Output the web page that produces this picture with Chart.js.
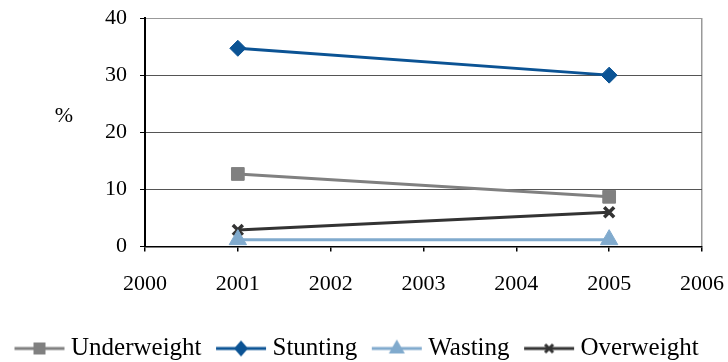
<!DOCTYPE html>
<html>
<head>
<meta charset="utf-8">
<script src="https://cdn.jsdelivr.net/npm/chart.js@4/dist/chart.umd.min.js"></script>
<style>
  html, body { margin: 0; padding: 0; background: #fff; }
  #wrap { width: 728px; height: 362px; }
</style>
</head>
<body>
<div id="wrap"><canvas id="nutritionChart" width="728" height="362"></canvas></div>
<script>
// values
const years = [2001, 2005];
const underweight = [12.7, 8.7];
const stunting = [34.7, 30.0];
const wasting = [1.2, 1.2];
const overweight = [2.9, 6.0];
const seriesNames = ['Underweight', 'Stunting', 'Wasting', 'Overweight'];
const yTicks = [0, 10, 20, 30, 40];
const xRange = [2000, 2006];

const serif = "'Liberation Serif', 'Times New Roman', Times, serif";
const colors = ['#808080', '#0b5394', '#80aacd', '#333333'];
const markers = ['rect', 'rectRot', 'triangle', 'crossRot'];
const radii = [9, 8, 10, 7];

function toPoints(values) {
  return values.map((v, i) => ({ x: years[i], y: v }));
}

// legend icon: short line with the marker in the middle.
// canvas is wider than the legend box so the line starts at the box's left edge
// and the text sits close to the line end
function legendIcon(color, marker) {
  const c = document.createElement('canvas');
  c.width = 78;
  c.height = 20;
  const g = c.getContext('2d');
  const x0 = 17, x1 = 67, mid = 42;
  g.strokeStyle = color;
  g.fillStyle = color;
  g.lineWidth = 3;
  g.beginPath();
  g.moveTo(x0, 10);
  g.lineTo(x1, 10);
  g.stroke();
  g.beginPath();
  if (marker === 'rect') {
    g.fillRect(mid - 6, 4, 12, 12);
  } else if (marker === 'rectRot') {
    g.moveTo(mid, 2); g.lineTo(mid + 7, 10); g.lineTo(mid, 18); g.lineTo(mid - 7, 10);
    g.closePath(); g.fill();
  } else if (marker === 'triangle') {
    g.moveTo(mid, 1); g.lineTo(mid + 8, 15); g.lineTo(mid - 8, 15);
    g.closePath(); g.fill();
  } else {
    g.lineWidth = 3;
    g.moveTo(mid - 4, 6); g.lineTo(mid + 4, 14);
    g.moveTo(mid + 4, 6); g.lineTo(mid - 4, 14);
    g.stroke();
  }
  return c;
}

const allSeries = [underweight, stunting, wasting, overweight];
const datasets = allSeries.map((vals, i) => ({
  label: seriesNames[i],
  data: toPoints(vals),
  borderColor: colors[i],
  backgroundColor: colors[i],
  borderWidth: 3,
  pointStyle: markers[i],
  pointRadius: radii[i],
  pointHoverRadius: radii[i],
  pointBorderWidth: markers[i] === 'crossRot' ? 3.5 : 1,
  tension: 0,
  fill: false,
  clip: false
}));
const icons = colors.map((c, i) => legendIcon(c, markers[i]));

const percentLabel = {
  id: 'percentLabel',
  afterDraw(chart) {
    const ctx = chart.ctx;
    ctx.save();
    ctx.font = '22px ' + serif;
    ctx.fillStyle = '#000';
    ctx.textAlign = 'center';
    ctx.textBaseline = 'middle';
    ctx.fillText('%', 64, 116);
    ctx.restore();
  }
};

new Chart(document.getElementById('nutritionChart'), {
  type: 'line',
  data: { datasets: datasets },
  plugins: [percentLabel],
  options: {
    responsive: false,
    animation: false,
    layout: { autoPadding: false, padding: { left: 0, right: 0, top: 0, bottom: -9 } },
    plugins: {
      tooltip: { enabled: false },
      legend: {
        position: 'bottom',
        align: 'start',
        labels: {
          usePointStyle: true,
          pointStyleWidth: 44,
          padding: 14.5,
          color: '#000',
          font: { family: serif, size: 25 },
          generateLabels: (chart) =>
            Chart.defaults.plugins.legend.labels.generateLabels(chart)
              .map((l, i) => ({ ...l, pointStyle: icons[i] }))
        }
      }
    },
    scales: {
      x: {
        type: 'linear',
        min: xRange[0],
        max: xRange[1],
        afterFit: (s) => { s.height = 75; s.paddingLeft = 22; s.paddingRight = 26; },
        ticks: {
          stepSize: 1,
          padding: 20,
          color: '#000',
          font: { family: serif, size: 22 },
          callback: (v) => String(v)
        },
        grid: {
          drawTicks: true,
          tickLength: 5,
          tickColor: '#000',
          color: (c) => (c.tick && c.tick.value === xRange[1]) ? '#999' : 'rgba(0,0,0,0)',
          lineWidth: 1.5
        },
        border: { color: '#000', width: 1.5 }
      },
      y: {
        min: 0,
        max: 40,
        afterFit: (s) => { s.width = 145; s.paddingTop = 18; s.paddingBottom = 13; },
        afterBuildTicks: (s) => { s.ticks = yTicks.map(v => ({ value: v })); },
        ticks: {
          padding: 13,
          color: '#000',
          font: { family: serif, size: 22 }
        },
        grid: {
          tickLength: 5,
          tickColor: '#000',
          color: (c) => (c.tick && c.tick.value === 40) ? '#999' : '#555',
          lineWidth: 1
        },
        border: { color: '#000', width: 2 }
      }
    }
  }
});
</script>
</body>
</html>
